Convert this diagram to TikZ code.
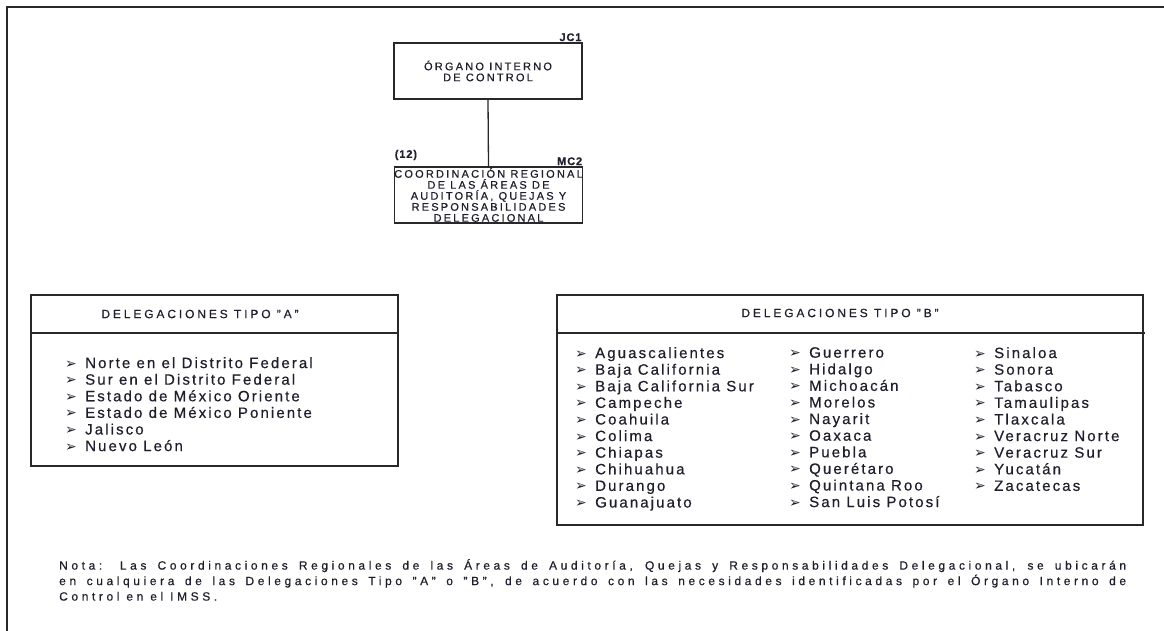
\documentclass[tikz,border=0pt]{standalone}
\usepackage{fontspec}
\setmainfont{Liberation Sans}[LetterSpace=14, FakeBold=0.5]
\newfontfamily\symfont{DejaVu Sans}
\usetikzlibrary{positioning, calc}
\definecolor{clrLn}{RGB}{40,40,40}
\definecolor{clrTx}{RGB}{30,30,45}
\newcommand{\bul}{\makebox[20pt][l]{\symfont\fontsize{14}{14}\selectfont ➢}}

\begin{document}
\begin{tikzpicture}[x=1pt, y=-1pt,
  %% ── box styles ───────────────────────────────────────────────────────────
  orgbox/.style = {rectangle, draw=clrLn, line width=1.3pt,
                   minimum width=188pt, minimum height=56pt,
                   inner sep=0pt, align=center, text=clrTx,
                   font=\fontsize{11}{11}\selectfont\addfontfeatures{LetterSpace=20}},
  tag/.style    = {inner sep=1pt, text=clrTx,
                   font=\fontsize{11}{11}\selectfont\bfseries\addfontfeatures{LetterSpace=8}},
  hdr/.style    = {inner sep=0pt, text=clrTx,
                   font=\fontsize{12}{12}\selectfont\addfontfeatures{LetterSpace=24}},
  lst/.style    = {inner sep=0pt, align=left, text=clrTx,
                   font=\fontsize{15}{16.6}\selectfont},
  frame/.style  = {draw=clrLn, line width=1.3pt},
]
\useasboundingbox (0,0) rectangle (1164,631);

%% ── page frame ────────────────────────────────────────────────────────────
\draw[frame, line width=2pt] (7,631) -- (7,7) -- (1164,7);

%% ── top: organo interno and coordinacion ─────────────────────────────────
\node[orgbox] (oic) at (488,71) {ÓRGANO INTERNO\\DE CONTROL};
\node[orgbox, fill=white] (crd) at (488.5,195)
     {COORDINACIÓN REGIONAL\\DE LAS ÁREAS DE\\AUDITORÍA, QUEJAS Y\\RESPONSABILIDADES\\DELEGACIONAL};
\draw[frame] (oic.south) -- (crd.north);

\node[tag, anchor=south east] at (oic.north east) {JC1};
\node[tag, anchor=south east] at (crd.north east) {MC2};
\node[tag, anchor=south west, yshift=5pt] at (crd.north west) {(12)};

%% ── delegaciones tipo A ───────────────────────────────────────────────────
\draw[frame] (31,295) rectangle (398,466);
\draw[frame] (31,333) -- (398,333);
\node[hdr] (hdrA) at (200,314) {DELEGACIONES TIPO "A"};
\node[lst, anchor=north west] (colA) at (65,357)
     {\bul Norte en el Distrito Federal\\
      \bul Sur en el Distrito Federal\\
      \bul Estado de México Oriente\\
      \bul Estado de México Poniente\\
      \bul Jalisco\\
      \bul Nuevo León};

%% ── delegaciones tipo B ───────────────────────────────────────────────────
\draw[frame] (557,295) rectangle (1143,525);
\draw[frame] (557,333) -- (1145,333);
\node[hdr] (hdrB) at (840,313) {DELEGACIONES TIPO "B"};
\node[lst, anchor=north west] (colB1) at (575,347)
     {\bul Aguascalientes\\ \bul Baja California\\ \bul Baja California Sur\\
      \bul Campeche\\ \bul Coahuila\\ \bul Colima\\ \bul Chiapas\\
      \bul Chihuahua\\ \bul Durango\\ \bul Guanajuato};
\node[lst, anchor=north west] (colB2) at (789,347)
     {\bul Guerrero\\ \bul Hidalgo\\ \bul Michoacán\\ \bul Morelos\\
      \bul Nayarit\\ \bul Oaxaca\\ \bul Puebla\\ \bul Querétaro\\
      \bul Quintana Roo\\ \bul San Luis Potosí};
\node[lst, anchor=north west] (colB3) at (974,347)
     {\bul Sinaloa\\ \bul Sonora\\ \bul Tabasco\\ \bul Tamaulipas\\
      \bul Tlaxcala\\ \bul Veracruz Norte\\ \bul Veracruz Sur\\
      \bul Yucatán\\ \bul Zacatecas};

%% ── nota ──────────────────────────────────────────────────────────────────
\node[inner sep=0pt, anchor=north west, text width=1067pt, align=justify,
      text=clrTx, font=\fontsize{12}{15.5}\selectfont\addfontfeatures{LetterSpace=30}] (nota) at (59,559)
     {Nota: Las Coordinaciones Regionales de las Áreas de Auditoría, Quejas y Responsabilidades Delegacional, se ubicarán\linebreak
      en cualquiera de las Delegaciones Tipo "A" o "B", de acuerdo con las necesidades identificadas por el Órgano Interno de\linebreak
      Control en el IMSS.};

\end{tikzpicture}
\end{document}
